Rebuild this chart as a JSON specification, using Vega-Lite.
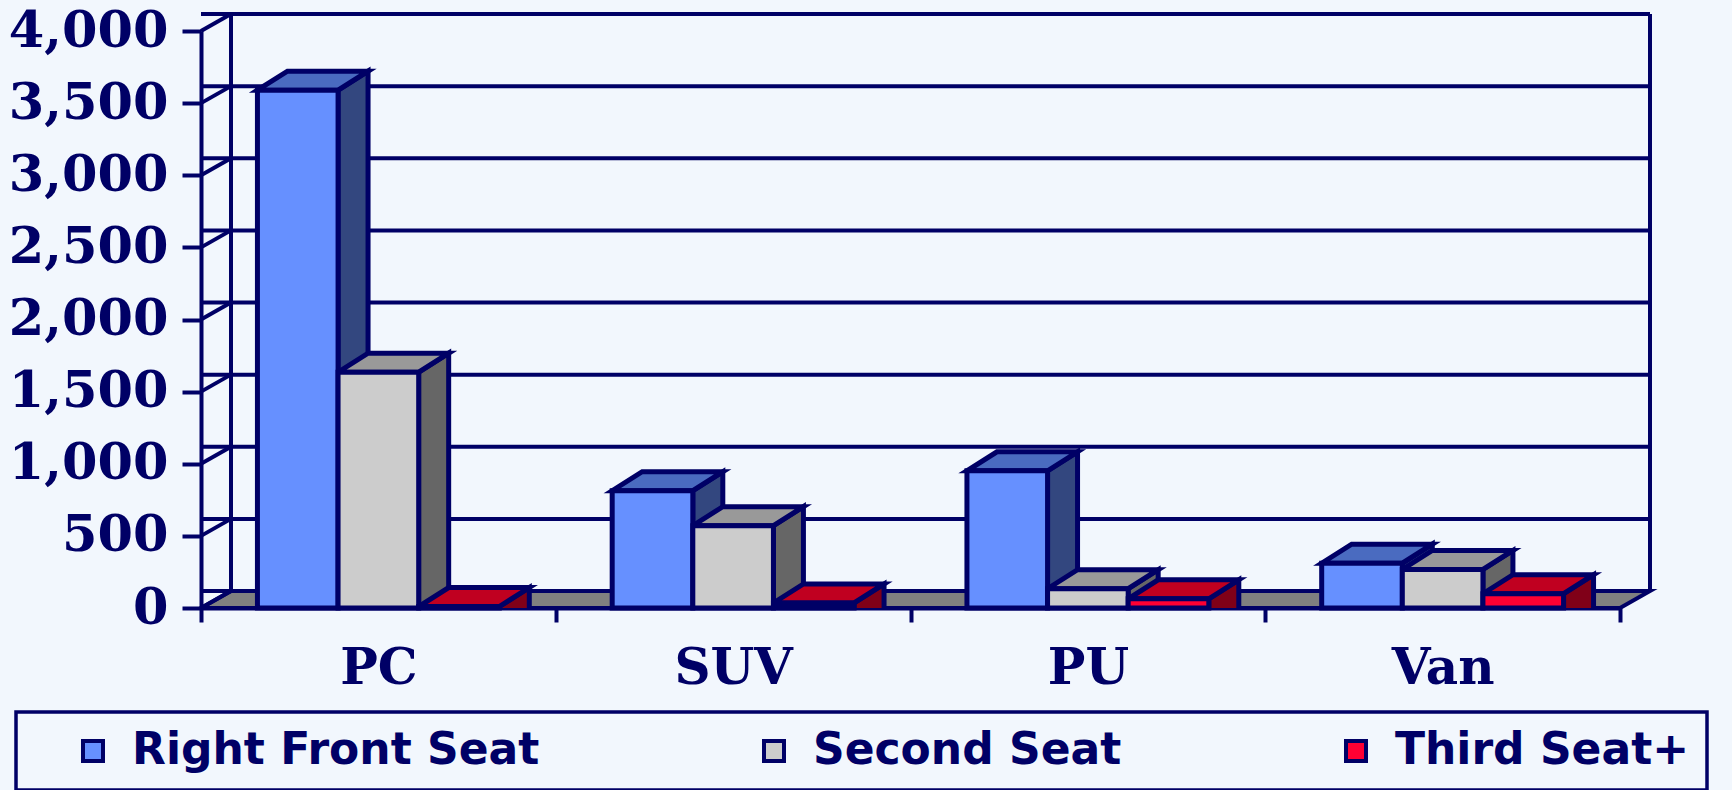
{
  "$schema": "https://vega.github.io/schema/vega-lite/v6.json",
  "autosize": {"type": "none"},
  "width": 1419,
  "height": 577,
  "padding": {"left": 201, "top": 31, "right": 112, "bottom": 182},
  "background": "#f2f7fd",
  "config": {"view": {"stroke": null}, "legend": {"strokeWidth": 3.5}},
  "data": {"values": [
    {"cat": "PC", "series": "Right Front Seat", "value": 3590},
    {"cat": "PC", "series": "Second Seat", "value": 1635},
    {"cat": "PC", "series": "Third Seat+", "value": 10},
    {"cat": "SUV", "series": "Right Front Seat", "value": 813},
    {"cat": "SUV", "series": "Second Seat", "value": 571},
    {"cat": "SUV", "series": "Third Seat+", "value": 35},
    {"cat": "PU", "series": "Right Front Seat", "value": 951},
    {"cat": "PU", "series": "Second Seat", "value": 134},
    {"cat": "PU", "series": "Third Seat+", "value": 64},
    {"cat": "Van", "series": "Right Front Seat", "value": 311},
    {"cat": "Van", "series": "Second Seat", "value": 267},
    {"cat": "Van", "series": "Third Seat+", "value": 99}
  ]},
  "resolve": {"scale": {"fill": "independent"}, "legend": {"fill": "independent"}},
  "layer": [
    {
      "data": {"values": [{"k": 1}]},
      "mark": {"type": "point", "shape": "M0,0L1419,0L1449,-17L30,-17Z", "size": 4, "filled": true, "fill": "#808080", "opacity": 1, "stroke": "#000066", "strokeWidth": 4, "strokeJoin": "miter"},
      "encoding": {
        "x": {"datum": "PC", "type": "nominal", "bandPosition": 0, "scale": {"domain": ["PC", "SUV", "PU", "Van"], "paddingInner": 0, "paddingOuter": 0}},
        "y": {"datum": 0, "type": "quantitative"}
      }
    },
    {
      "data": {"values": [{"v": 0}, {"v": 500}, {"v": 1000}, {"v": 1500}, {"v": 2000}, {"v": 2500}, {"v": 3000}, {"v": 3500}, {"v": 4000}]},
      "mark": {"type": "rule", "xOffset": 30, "x2Offset": 30, "yOffset": -17, "color": "#000066", "strokeWidth": 4},
      "encoding": {"y": {"field": "v", "type": "quantitative"}}
    },
    {
      "data": {"values": [{"v": 0}, {"v": 500}, {"v": 1000}, {"v": 1500}, {"v": 2000}, {"v": 2500}, {"v": 3000}, {"v": 3500}, {"v": 4000}]},
      "mark": {"type": "point", "shape": "M0,0L30,-17", "size": 4, "filled": false, "opacity": 1, "stroke": "#000066", "strokeWidth": 4},
      "encoding": {
        "x": {"datum": "PC", "type": "nominal", "bandPosition": 0},
        "y": {"field": "v", "type": "quantitative"}
      }
    },
    {
      "data": {"values": [{"k": 1}]},
      "mark": {"type": "point", "shape": "M30,-17L30,-594M1449,-17L1449,-594", "size": 4, "filled": false, "opacity": 1, "stroke": "#000066", "strokeWidth": 4},
      "encoding": {
        "x": {"datum": "PC", "type": "nominal", "bandPosition": 0},
        "y": {"datum": 0, "type": "quantitative"}
      }
    },
    {
      "mark": {"type": "point", "shape": "M40.3,0L70.3,-19L70.3,700L40.3,700Z", "size": 4, "filled": true, "opacity": 1, "stroke": "#000066", "strokeWidth": 5, "strokeJoin": "miter", "clip": true},
      "encoding": {
        "x": {"field": "cat", "type": "nominal"},
        "xOffset": {"field": "series", "type": "nominal"},
        "y": {"field": "value", "type": "quantitative", "stack": null},
        "fill": {"field": "series", "type": "nominal", "scale": {"domain": ["Right Front Seat", "Second Seat", "Third Seat+"], "range": ["#33477F", "#666666", "#800018"]}, "legend": null}
      }
    },
    {
      "mark": {"type": "point", "shape": "M-40.3,0L40.3,0L70.3,-19L-10.3,-19Z", "size": 4, "filled": true, "opacity": 1, "stroke": "#000066", "strokeWidth": 5, "strokeJoin": "miter"},
      "encoding": {
        "x": {"field": "cat", "type": "nominal"},
        "xOffset": {"field": "series", "type": "nominal"},
        "y": {"field": "value", "type": "quantitative", "stack": null},
        "fill": {"field": "series", "type": "nominal", "scale": {"domain": ["Right Front Seat", "Second Seat", "Third Seat+"], "range": ["#4A6BC0", "#999999", "#C00020"]}, "legend": null}
      }
    },
    {
      "mark": {"type": "bar", "stroke": "#000066", "strokeWidth": 5},
      "encoding": {
        "x": {"field": "cat", "type": "nominal", "sort": null,
          "axis": {"title": null, "labelAngle": 0, "labelAlign": "center", "tickBand": "extent", "tickSize": 14, "tickWidth": 4, "tickColor": "#000066", "domainColor": "#000066", "domainWidth": 4, "labelFont": "DejaVu Serif", "labelFontWeight": "bold", "labelFontSize": 50, "labelColor": "#000066", "labelPadding": 46}},
        "xOffset": {"field": "series", "type": "nominal", "scale": {"domain": ["Right Front Seat", "Second Seat", "Third Seat+"], "paddingInner": 0, "paddingOuter": 0.7}},
        "y": {"field": "value", "type": "quantitative", "stack": null,
          "scale": {"domain": [0, 4000], "nice": false},
          "axis": {"title": null, "values": [0, 500, 1000, 1500, 2000, 2500, 3000, 3500, 4000], "format": ",d", "grid": false, "labelFont": "DejaVu Serif", "labelFontWeight": "bold", "labelFontSize": 51, "labelColor": "#000066", "labelLimit": 0, "tickColor": "#000066", "tickWidth": 4, "tickSize": 19, "labelPadding": 14, "domainColor": "#000066", "domainWidth": 4}},
        "fill": {"field": "series", "type": "nominal", "scale": {"domain": ["Right Front Seat", "Second Seat", "Third Seat+"], "range": ["#6690FF", "#CCCCCC", "#FF0033"]},
          "legend": {"title": null, "orient": "none", "legendX": -185, "legendY": 681, "direction": "horizontal", "padding": 17, "strokeColor": "#000066", "symbolType": "square", "symbolSize": 400, "symbolStrokeColor": "#000066", "symbolStrokeWidth": 4, "symbolOpacity": 1, "labelFont": "DejaVu Sans", "labelFontWeight": "bold", "labelFontSize": 44, "labelColor": "#000066", "labelLimit": 0, "columnPadding": 174, "symbolOffset": 38, "labelOffset": 17}}
      }
    }
  ]
}
